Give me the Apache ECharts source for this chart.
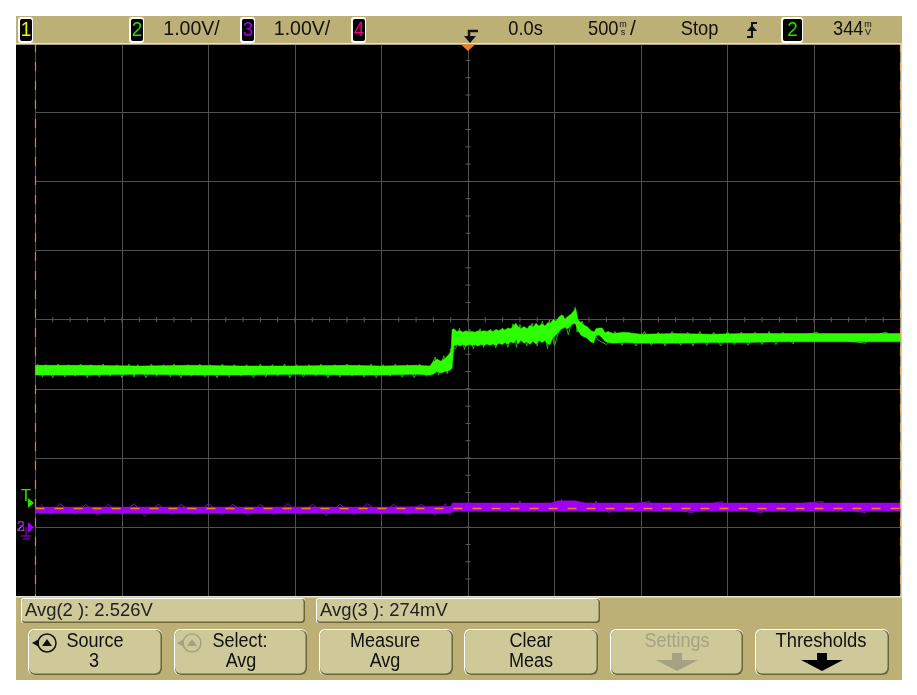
<!DOCTYPE html>
<html>
<head>
<meta charset="utf-8">
<style>html,body{margin:0;padding:0;background:#fff}#container{width:917px;height:695px}</style>
<script src="https://cdn.jsdelivr.net/npm/echarts@6/dist/echarts.min.js"></script>
</head>
<body>
<div id="container"></div>
<script>
var dom = document.getElementById("container");
var myChart = echarts.init(dom);

// channel 2, seconds / volts, body of the trace
var greenTime = [-2.5,-2.2,-1.9,-1.6,-1.3,-1,-0.7,-0.5,-0.3,-0.22,
	-0.202,-0.179,-0.156,-0.133,-0.11,-0.098,-0.092,-0.081,-0.064,-0.046,-0.029,-0.012,0.006,0.023,0.04,0.058,0.075,0.092,0.11,0.127,0.145,0.162,0.179,0.197,0.214,0.231,0.249,0.266,0.277,0.289,0.306,0.324,0.341,0.358,0.376,0.393,0.41,0.428,0.445,0.462,0.474,0.491,0.509,0.526,0.543,0.561,0.578,0.595,0.613,0.624,0.636,0.653,0.671,0.688,0.705,0.717,0.728,0.74,0.757,0.775,0.792,0.809,
	0.84,0.9,1,1.2,1.4,1.6,1.8,2,2.2,2.5];
var greenHigh = [2.34,2.34,2.33,2.34,2.33,2.33,2.34,2.33,2.34,2.33,
	2.39,2.43,2.4,2.44,2.5,2.54,2.86,2.87,2.83,2.84,2.82,2.84,2.82,2.83,2.82,2.84,2.83,2.84,2.83,2.85,2.83,2.86,2.84,2.87,2.85,2.88,2.87,2.92,2.95,2.9,2.87,2.9,2.87,2.92,2.89,2.95,2.91,2.94,2.91,2.96,2.94,3.0,2.98,3.04,3.07,3.01,3.05,3.08,3.13,3.15,3,2.96,2.92,2.9,2.86,2.83,2.82,2.87,2.88,2.88,2.81,2.83,
	2.8,2.82,2.79,2.8,2.79,2.8,2.8,2.8,2.8,2.8];
var greenLow = [2.2,2.2,2.21,2.2,2.2,2.21,2.2,2.2,2.21,2.2,
	2.21,2.25,2.23,2.25,2.26,2.28,2.3,2.62,2.64,2.62,2.64,2.62,2.64,2.63,2.64,2.62,2.64,2.63,2.65,2.63,2.65,2.63,2.66,2.64,2.67,2.65,2.68,2.66,2.72,2.65,2.7,2.66,2.68,2.64,2.69,2.65,2.7,2.67,2.7,2.65,2.64,2.74,2.78,2.83,2.87,2.89,2.87,2.92,2.95,2.93,2.84,2.78,2.75,2.74,2.69,2.67,2.67,2.77,2.78,2.74,2.69,2.67,
	2.66,2.67,2.66,2.66,2.67,2.67,2.68,2.68,2.68,2.68];

// noise spikes that stick out of the body
var greenSpikeTime = [-2.49,-2.46,-2.44,-2.4,-2.37,-2.33,-2.31,-2.27,-2.24,-2.2,-2.18,-2.13,-2.11,-2.07,-2.03,-2,-1.96,-1.93,-1.91,-1.86,-1.83,-1.8,-1.76,-1.72,-1.7,-1.66,-1.62,-1.6,-1.55,-1.52,-1.49,-1.45,-1.42,-1.38,-1.35,-1.31,-1.28,-1.24,-1.2,-1.17,-1.13,-1.1,-1.06,-1.03,-0.99,-0.95,-0.92,-0.88,-0.85,-0.81,-0.77,-0.74,-0.7,-0.67,-0.63,-0.6,-0.56,-0.53,-0.49,-0.45,-0.42,-0.38,-0.35,-0.31,-0.28,-0.24,
	-0.19,-0.17,-0.14,-0.12,-0.1,-0.07,-0.05,-0.02,0.01,0.03,0.07,0.09,0.13,0.16,0.2,0.23,0.26,0.28,0.3,0.34,0.37,0.4,0.43,0.46,0.47,0.5,0.55,0.58,0.62,0.63,0.66,0.69,0.72,0.75,0.8,
	0.85,0.89,0.93,0.97,1.02,1.06,1.1,1.14,1.18,1.23,1.27,1.3,1.34,1.38,1.42,1.46,1.5,1.54,1.58,1.62,1.66,1.7,1.74,1.78,1.82,1.88,1.89,2.02,2.03,2.3,2.31,2.42,2.43];
var greenSpikeValue = [2.36,2.17,2.35,2.16,2.36,2.17,2.35,2.18,2.36,2.16,2.35,2.17,2.36,2.18,2.35,2.16,2.36,2.17,2.35,2.16,2.36,2.18,2.35,2.17,2.36,2.16,2.35,2.18,2.36,2.17,2.35,2.16,2.36,2.17,2.35,2.18,2.35,2.16,2.36,2.17,2.35,2.18,2.36,2.16,2.35,2.17,2.35,2.18,2.36,2.16,2.35,2.17,2.36,2.18,2.35,2.17,2.36,2.16,2.35,2.18,2.36,2.17,2.35,2.16,2.36,2.18,
	2.46,2.2,2.48,2.22,2.58,2.58,2.88,2.57,2.86,2.58,2.87,2.6,2.86,2.59,2.88,2.6,2.94,2.6,2.93,2.62,2.95,2.62,2.98,2.58,3,2.62,3.06,2.78,3.18,2.82,2.98,2.72,2.84,2.71,2.64,
	2.83,2.63,2.82,2.62,2.83,2.63,2.82,2.62,2.83,2.63,2.82,2.62,2.83,2.63,2.82,2.62,2.83,2.64,2.82,2.63,2.82,2.64,2.83,2.64,2.82,2.65,2.75,2.82,2.75,2.66,2.75,2.82,2.75];

// channel 3
var purpleTime = [-2.5,-1.8,-1.1,-0.5,-0.1,-0.09,0.2,0.48,0.52,0.62,0.64,0.68,1,1.6,2.2,2.5];
var purpleHigh = [0.29,0.29,0.29,0.29,0.3,0.35,0.35,0.35,0.38,0.38,0.37,0.35,0.35,0.35,0.35,0.35];
var purpleLow = [0.2,0.2,0.2,0.2,0.2,0.23,0.23,0.23,0.23,0.23,0.23,0.23,0.23,0.23,0.23,0.23];
var purpleSpikeTime = [-2.47,-2.41,-2.36,-2.27,-2.21,-2.14,-2.08,-2,-1.93,-1.87,-1.79,-1.71,-1.66,-1.58,-1.5,-1.42,-1.36,-1.27,-1.2,-1.12,-1.04,-0.97,-0.9,-0.82,-0.74,-0.66,-0.58,-0.5,-0.43,-0.35,-0.27,-0.19,-0.13,-0.12,0.29,0.3,0.31,0.53,0.54,0.55,0.73,0.74,0.75,0.82,0.83,1.05,1.06,1.3,1.31,1.47,1.48,1.7,1.71,2.05,2.06,2.3];
var purpleSpikeValue = [0.33,0.18,0.34,0.18,0.33,0.17,0.33,0.18,0.34,0.16,0.33,0.18,0.33,0.18,0.34,0.18,0.33,0.17,0.33,0.18,0.34,0.18,0.33,0.17,0.33,0.18,0.34,0.18,0.33,0.18,0.33,0.17,0.34,0.25,0.29,0.38,0.29,0.29,0.4,0.29,0.29,0.38,0.29,0.21,0.29,0.37,0.29,0.21,0.29,0.37,0.29,0.21,0.29,0.37,0.29,0.21];

var triggerLevel = 0.27;
var centerTime = 0, centerVolt = 3;

var panel = '#bcb076', face = '#cfc99a', textFont = '"Liberation Sans",sans-serif';
var green = '#2eff00', purple = '#a000f0', orange = '#f0801e';

function band(time, high, low, fill) {
	var top = time.map(function (t, i) { return [t, high[i]]; });
	var bottom = time.map(function (t, i) { return [t, low[i]]; }).reverse();
	var outline = top.concat(bottom);
	return {
		type: 'custom',
		coordinateSystem: 'cartesian2d',
		silent: true,
		clip: true,
		z: 4,
		data: [[time[0], low[0]]],
		renderItem: function (params, api) {
			return {
				type: 'polygon',
				shape: { points: outline.map(function (p) { return api.coord(p); }) },
				style: { fill: fill, stroke: fill, lineWidth: 0.5 }
			};
		}
	};
}

function spikes(time, values, color) {
	return {
		type: 'line', symbol: 'none', silent: true, z: 3,
		data: time.map(function (t, i) { return [t, values[i]]; }),
		lineStyle: { color: color, width: 1 }
	};
}

function dashed(data, width) {
	return {
		type: 'line', data: data, symbol: 'none', silent: true, clip: false, z: 6,
		lineStyle: { color: orange, width: width, type: [9, 10] }
	};
}

var g = [];
function rect(x, y, w, h, fill, r, z) {
	g.push({ type: 'rect', z: z === undefined ? -5 : z, silent: true, shape: { x: x, y: y, width: w, height: h, r: r || 0 }, style: { fill: fill } });
}
function txt(x, y, s, size, color, align, sx) {
	g.push({ type: 'text', z: 50, silent: true, x: x, y: y, scaleX: sx || 0.9, style: { text: s, fontSize: size, fill: color, align: align || 'center', verticalAlign: 'middle', fontFamily: textFont } });
}
function poly(points, fill, z) {
	g.push({ type: 'polygon', z: z || 50, silent: true, shape: { points: points }, style: { fill: fill } });
}
function seg(points, color, w) {
	g.push({ type: 'polyline', z: 50, silent: true, shape: { points: points }, style: { stroke: color, lineWidth: w || 1.5, fill: null } });
}
function badge(x, w, s, color) {
	rect(x, 17, w, 26, '#ffffff', 3, 40);
	rect(x + 2, 19, w - 3, 22, '#000000', 2, 41);
	txt(x + w / 2 + 0.5, 30, s, 21, color);
}
function raised(x, y, w, h, r) {
	rect(x, y, w, h, '#ffffff', r, 10);
	rect(x + 1, y + 1, w - 1, h - 1, '#6b663a', r, 11);
	rect(x + 1, y + 1, w - 2.5, h - 2.5, face, r, 12);
}
function knob(cx, cy, color) {
	g.push({ type: 'arc', z: 50, silent: true, shape: { cx: cx, cy: cy, r: 9, startAngle: 0, endAngle: Math.PI * 2 }, style: { stroke: color, lineWidth: 1.5, fill: null } });
	poly([[cx - 5, cy + 3], [cx + 5, cy + 3], [cx, cy - 4]], color);
	poly([[cx - 15, cy], [cx - 8, cy - 4], [cx - 8, cy + 4]], color);
}
function downArrow(cx, color) {
	poly([[cx - 5, 653], [cx + 5, 653], [cx + 5, 660], [cx + 21, 660], [cx, 671], [cx - 21, 660], [cx - 5, 660]], color);
}

// scope bezel
rect(16, 16, 886, 664, panel, 0, -10);
rect(16, 44.5, 884, 551.5, '#000000', 0, -8);
rect(16, 16, 886, 27, panel, 0, 20);
rect(16, 43, 886, 1.5, '#e8e4c8', 0, 21);
rect(16, 597, 886, 83, panel, 0, 5);
rect(16, 596, 886, 1.5, '#e8e4c8', 0, 21);
rect(900.5, 43, 1.5, 554, '#d8d2a8', 0, 21);

// top status line
badge(18, 15, '1', '#f0f000');
badge(129, 15, '2', '#22e000');
txt(191.5, 29, '1.00V/', 21, '#111', 'center', 0.93);
badge(240, 15, '3', '#a000f0');
txt(302, 29, '1.00V/', 21, '#111', 'center', 0.93);
badge(351, 15, '4', '#f00080');
seg([[478, 31], [469, 31], [469, 40]], '#111', 2.5);
poly([[464, 36], [476, 36], [470, 43]], '#111');
poly([[461, 44.5], [475, 44.5], [468, 51]], orange, 60);
txt(525.5, 29, '0.0s', 21, '#111', 'center', 0.87);
txt(588, 29, '500', 21, '#111', 'left', 0.87);
txt(623, 25, 'm', 9, '#111', 'center', 1);
txt(623, 33, 's', 9, '#111', 'center', 1);
txt(633, 29, '/', 21, '#111', 'center', 1);
txt(699.5, 29, 'Stop', 21, '#111', 'center', 0.87);
seg([[757, 23], [752, 23], [752, 37], [747, 37]], '#111', 2);
poly([[747, 31], [757, 31], [752, 25]], '#111');
badge(781, 22, '2', '#22e000');
txt(833, 29, '344', 21, '#111', 'left', 0.87);
txt(868, 25, 'm', 9, '#111', 'center', 1);
txt(868, 33, 'V', 9, '#111', 'center', 1);

// channel markers at left edge
txt(26, 496, 'T', 17, '#2ee000', 'center', 1);
poly([[28, 498], [34, 503], [28, 508]], '#2ee000');
txt(21, 527, '2', 15, '#2ee000', 'center', 1);
txt(21, 527, '3', 15, '#a000f0', 'center', 1);
poly([[28, 522], [34, 527.5], [28, 533]], '#a000f0');
seg([[26, 527], [26, 536]], '#a000f0', 1);
seg([[21, 536], [31, 536]], '#a000f0', 1);
seg([[23, 539], [29, 539]], '#a000f0', 1);

// measurement lines
raised(21, 598, 284, 25, 3);
raised(316, 598, 284, 25, 3);
txt(25, 611, 'Avg(2 ): 2.526V', 19, '#222', 'left', 0.97);
txt(320, 611, 'Avg(3 ): 274mV', 19, '#222', 'left', 0.97);

// softkeys
[[28, 134], [174, 133], [319, 134], [464, 134], [610, 133], [755, 134]].forEach(function (b) {
	raised(b[0], 629, b[1], 46, 6);
});
knob(47, 643, '#111');
txt(95, 641, 'Source', 20, '#111');
txt(94, 661, '3', 20, '#111');
knob(192, 643, '#a5a283');
txt(240, 641, 'Select:', 20, '#111');
txt(241, 661, 'Avg', 20, '#111');
txt(385, 641, 'Measure', 20, '#111');
txt(385, 661, 'Avg', 20, '#111');
txt(531, 641, 'Clear', 20, '#111');
txt(531, 661, 'Meas', 20, '#111');
txt(677, 641, 'Settings', 20, '#a5a283');
downArrow(677, '#a5a283');
txt(821, 641, 'Thresholds', 20, '#111', 'center', 0.92);
downArrow(822, '#000');

// minor ticks on the centre lines
var timeTicks = [], voltTicks = [];
for (var i = -25; i <= 25; i++) timeTicks.push([i / 10, centerVolt]);
for (var j = -16; j <= 15; j++) voltTicks.push([centerTime, centerVolt + j / 4]);

var option = {
	animation: false,
	backgroundColor: '#ffffff',
	grid: { left: 35.5, top: 43.1, width: 865, height: 553.2 },
	xAxis: {
		type: 'value', min: -2.5, max: 2.5, interval: 0.5,
		axisLine: { show: false }, axisTick: { show: false }, axisLabel: { show: false },
		splitLine: { lineStyle: { color: '#505050', width: 1 } }
	},
	yAxis: {
		type: 'value', min: -1, max: 7, interval: 1,
		axisLine: { show: false }, axisTick: { show: false }, axisLabel: { show: false },
		splitLine: { lineStyle: { color: '#505050', width: 1 } }
	},
	graphic: { elements: g },
	series: [
		{ type: 'scatter', data: timeTicks, symbol: 'rect', symbolSize: [1, 5], silent: true, itemStyle: { color: '#5c5c5c', opacity: 1 } },
		{ type: 'scatter', data: voltTicks, symbol: 'rect', symbolSize: [5, 1], silent: true, itemStyle: { color: '#5c5c5c', opacity: 1 } },
		spikes(greenSpikeTime, greenSpikeValue, '#22b808'),
		band(greenTime, greenHigh, greenLow, green),
		spikes(purpleSpikeTime, purpleSpikeValue, '#7d14bb'),
		band(purpleTime, purpleHigh, purpleLow, purple),
		dashed([[-2.5, triggerLevel], [2.5, triggerLevel]], 1.5),
		dashed([[-2.5, 7], [-2.5, -1]], 1.2),
		dashed([[2.5, 7], [2.5, -1]], 1.2)
	]
};
myChart.setOption(option, true);
</script>
</body>
</html>
